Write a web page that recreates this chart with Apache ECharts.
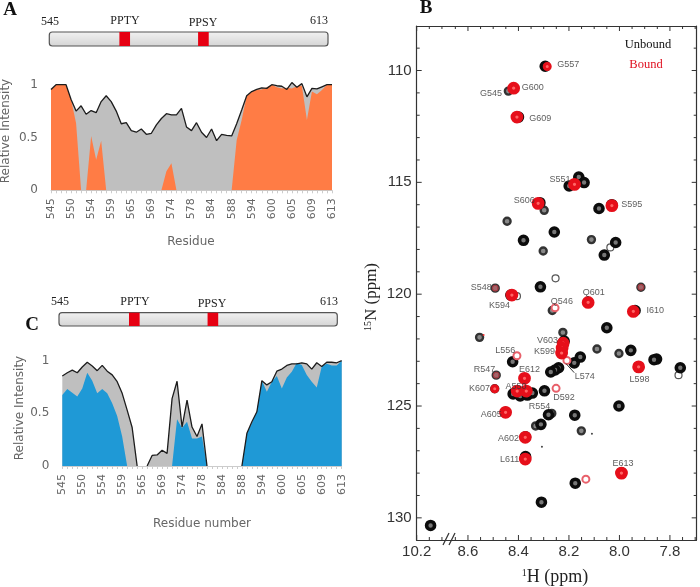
<!DOCTYPE html>
<html><head><meta charset="utf-8">
<style>html,body{margin:0;padding:0;background:#fff}#c{width:700px;height:587px}</style>
<script src="https://cdn.jsdelivr.net/npm/echarts@6/dist/echarts.min.js"></script>
</head><body><div id="c"></div>
<script>
const residues=[545,546,547,548,550,551,552,553,554,555,556,557,559,560,561,562,565,566,567,568,569,570,572,573,574,575,576,577,578,580,582,583,584,585,586,587,588,590,592,593,594,595,597,599,600,601,602,603,605,606,607,608,609,610,611,612,613];
const unboundA=[.955,1,1,1,.86,.75,.80,.72,.755,.735,.84,.895,.84,.75,.63,.64,.565,.55,.58,.53,.54,.62,.68,.725,.715,.715,.775,.60,.565,.64,.55,.50,.58,.47,.53,.52,.515,.63,.76,.895,.935,.955,.97,.965,1,.99,.985,.955,1.02,.975,1.01,.885,.965,.96,.98,1,1];
const boundA=[.955,1,1,1,.86,.635,0,0,.515,.29,.47,0,0,0,0,0,0,0,0,0,0,0,0,.18,.255,0,0,0,0,0,0,0,0,0,0,0,0,.475,.665,.895,.93,.955,.955,.975,1,.975,.965,.97,.965,.985,.99,.665,.935,.91,.95,1,1];
const unboundC=[.855,.885,.91,.885,.94,.985,.95,.905,.955,.90,.865,.80,.69,.53,.365,0,null,0,.10,.105,.15,.12,.64,.805,.37,.625,.37,.28,.40,0,null,null,null,null,null,null,0,.31,.42,.515,.81,.77,.80,.90,.92,.955,.97,.97,.98,.97,.92,.98,.945,.985,.985,.98,1];
const boundC=[.675,.73,.695,.66,.735,.885,.81,.69,.73,.69,.595,.475,.28,0,0,0,0,0,0,0,0,0,0,.445,.36,.42,.26,.26,.28,0,0,0,0,0,0,0,0,.31,.405,.525,.81,.705,.80,.855,.735,.84,.895,.98,.96,.865,.80,.745,.945,.97,.955,.955,1];
const chainSpan=[[545,613]];
const motifSpans=[[562.1,564.7],[581.3,583.9]];

const unboundStrong=[[8.294,109.81],[8.40,112.08],[8.161,114.76],[8.14,115.01],[8.199,115.16],[8.315,115.91],[8.03,116.0],[8.081,116.17],[8.258,117.22],[8.38,117.59],[8.015,117.69],[8.06,118.25],[8.313,119.67],[8.43,120.04],[7.938,120.73],[8.05,121.5],[8.219,122.1],[7.955,122.51],[7.853,122.9],[7.863,122.93],[7.759,123.29],[8.155,122.81],[8.179,123.07],[8.423,123.02],[8.241,123.29],[8.255,123.39],[8.272,123.48],[8.297,124.32],[8.421,124.46],[8.393,124.55],[8.365,124.51],[8.345,124.42],[8.002,125.0],[8.451,125.28],[8.281,125.39],[8.177,125.41],[8.311,125.82],[8.372,126.38],[8.372,127.26],[7.992,127.99],[8.175,128.45],[8.309,129.3],[10.145,130.34]];
const unboundWeak=[[8.44,110.92],[8.298,116.25],[8.445,116.74],[8.111,117.56],[8.302,118.07],[8.492,119.73],[7.915,119.69],[8.266,120.73],[8.224,121.71],[8.554,121.93],[8.089,122.45],[8.002,122.65],[8.488,123.62],[8.494,124.23],[8.151,126.11],[8.268,125.33],[8.332,125.89]];
const unboundFaint=[[8.036,117.91],[8.253,119.29],[7.766,123.62],[8.406,120.09]];
const unboundTiny=[[8.307,126.82],[8.109,126.24]];
const boundStrong=[[8.419,110.79],[8.406,112.08],[8.178,115.09],[8.322,115.94],[8.03,116.04],[8.426,120.04],[8.124,120.37],[7.945,120.77],[8.223,122.19],[8.227,122.41],[8.229,122.63],[7.924,123.25],[8.376,123.76],[8.405,124.33],[8.369,124.33],[8.451,125.28],[8.373,126.4],[8.373,127.37],[7.992,128.0]];
const boundMedium=[[8.494,124.23],[8.286,109.82]];
const boundWeak=[[8.255,120.61],[8.208,122.96],[8.406,122.75],[8.251,124.21],[8.133,128.27]];
const boundOverlap=[[8.492,119.73],[7.915,119.69],[8.488,123.62]];
const boundTiny=[[8.538,121.82]];
const leaderL574=[[8.212,123.1],[8.179,123.51]];
const peakLabels=['G557','G600','G545','G609','S551','S606','S595','S548','K594','Q601','Q546','I610','V603','K599','L556','L574','L598','R547','E612','K607','A550','D592','R554','A605','A602','L611','E613'];
const peakLabelH=[8.203,8.343,8.509,8.314,8.235,8.377,7.951,8.547,8.475,8.102,8.228,7.858,8.285,8.297,8.452,8.137,7.921,8.534,8.356,8.554,8.41,8.22,8.317,8.508,8.439,8.435,7.986];
const peakLabelN=[109.73,110.77,111.04,112.16,114.88,115.82,116.0,119.72,120.52,119.92,120.33,120.73,122.07,122.56,122.5,123.69,123.81,123.38,123.35,124.23,124.12,124.61,125.0,125.37,126.44,127.39,127.56];
const hTicks=[7.7,7.75,7.8,7.85,7.9,7.95,8,8.05,8.1,8.15,8.2,8.25,8.3,8.35,8.4,8.45,8.5,8.55,8.6,8.65,10.1,10.15,10.2];
const hLabels=[7.8,8,8.2,8.4,8.6,10.2];
const nTicks=[109,110,111,112,113,114,115,116,117,118,119,120,121,122,123,124,125,126,127,128,129,130];
const nLabels=[110,115,120,125,130];
const hMin=7.694,hMax=10.2,nMin=108.01,nMax=130.99;

const sans='"DejaVu Sans"';const serif='"Liberation Serif"';
const G='#666';
function relAxes(g){return {
 x:{type:'category',gridIndex:g,data:residues.map(String),boundaryGap:false,
    axisLine:{lineStyle:{color:'#ccc',width:1}},
    axisTick:{show:true,interval:0,length:3,lineStyle:{color:'#ccc'}},
    axisLabel:{interval:3,rotate:90,margin:8,fontFamily:sans,fontSize:11,color:G,verticalAlign:'middle'}},
 y:{type:'value',gridIndex:g,min:0,max:1.05,axisLine:{show:false},axisTick:{show:false},splitLine:{show:false},
    axisLabel:{customValues:[0,.5,1],margin:13,fontFamily:sans,fontSize:12,color:G,formatter:v=>String(v)}}
};}
const a=relAxes(0),c=relAxes(1);
function area(name,data,xi,fill,line){return {type:'line',name,data,xAxisIndex:xi,yAxisIndex:xi,symbol:'none',showSymbol:false,smooth:false,
  connectNulls:false,lineStyle:line?{color:line,width:1.3}:{width:0},areaStyle:{color:fill,opacity:1},silent:true};}
function peaks(name,data,size,fill,border,bw,z){return {type:'scatter',name,data,xAxisIndex:2,yAxisIndex:2,symbol:'circle',symbolSize:size,z,silent:true,
  itemStyle:{color:fill,borderColor:border,borderWidth:bw,opacity:1}};}
function spans(xi,data,style,r,z){return {type:'custom',xAxisIndex:xi,yAxisIndex:xi,data,silent:true,z,
  encode:{x:[0,1]},clip:false,
  renderItem(p,api){const s=api.coord([api.value(0),0]),e=api.coord([api.value(1),1]);
    return {type:'rect',shape:{x:s[0],y:e[1],width:e[0]-s[0],height:s[1]-e[1],r},style};}};}
const tickLine={stroke:'#333',lineWidth:1};
function hTickSeries(){return {type:'custom',xAxisIndex:2,yAxisIndex:2,data:hTicks.map(v=>[v]),silent:true,z:9,clip:false,encode:{x:0},
  renderItem(p,api){const v=api.value(0),b=api.coord([v,nMax]),t=api.coord([v,nMin]),l=hLabels.includes(v)?5:3;
    return {type:'group',children:[
      {type:'line',shape:{x1:b[0],y1:b[1],x2:b[0],y2:b[1]-l},style:tickLine},
      {type:'line',shape:{x1:t[0],y1:t[1],x2:t[0],y2:t[1]+l},style:tickLine}]};}};}
function nTickSeries(){return {type:'custom',xAxisIndex:2,yAxisIndex:2,data:nTicks.map(v=>[hMin,v]),silent:true,z:9,clip:false,encode:{x:0,y:1},
  renderItem(p,api){const v=api.value(1),r=api.coord([hMin,v]),m=api.coord([hMax,v]),l=nLabels.includes(v)?5:3;
    return {type:'group',children:[
      {type:'line',shape:{x1:r[0],y1:r[1],x2:r[0]-l,y2:r[1]},style:tickLine},
      {type:'line',shape:{x1:m[0],y1:m[1],x2:m[0]+l,y2:m[1]},style:tickLine}]};}};}
const chainStyle={fill:new echarts.graphic.LinearGradient(0,0,0,1,[{offset:0,color:'#f2f2f2'},{offset:1,color:'#d4d4d4'}]),stroke:'#555',lineWidth:1.2};
const motifStyle={fill:'#e60012'};
const frameLine={show:true,onZero:false,lineStyle:{color:'#333',width:1.2}};
function txt(x,y,s,o){return {type:'text',x,y,silent:true,style:Object.assign({text:s,font:'12px '+serif,fill:'#222',textAlign:'center',textVerticalAlign:'middle'},o||{})};}
const chart=echarts.init(document.getElementById('c'),null,{renderer:'canvas'});
chart.setOption({animation:false,backgroundColor:'#fff',
 grid:[
  {left:51,width:281,top:79.4,height:110.9},
  {left:62.3,width:279.4,top:355.4,height:110.6},
  {left:416.7,width:280,top:26,height:514},
  {left:49.3,width:278.7,top:32,height:14},
  {left:59,width:278.3,top:312.7,height:13.3}
 ],
 xAxis:[a.x,c.x,
  {type:'value',gridIndex:2,inverse:true,min:hMin,max:hMax,position:'bottom',
   breaks:[{start:8.667,end:10.064,gap:0}],breakArea:{show:false},
   axisLine:frameLine,splitLine:{show:false},axisTick:{show:false},
   axisLabel:{customValues:hLabels,margin:4,fontFamily:'"Liberation Sans"',fontSize:15,color:'#333',formatter:v=>Number(v).toFixed(1)}},
  {type:'value',gridIndex:2,inverse:true,min:hMin,max:hMax,position:'top',
   breaks:[{start:8.667,end:10.064,gap:0}],breakArea:{show:false},
   axisLine:frameLine,splitLine:{show:false},axisTick:{show:false},
   axisLabel:{show:false}},
  {type:'value',gridIndex:3,min:545,max:613,show:false},
  {type:'value',gridIndex:4,min:545,max:613,show:false}
 ],
 yAxis:[a.y,c.y,
  {type:'value',gridIndex:2,inverse:true,min:nMin,max:nMax,position:'left',
   axisLine:frameLine,splitLine:{show:false},axisTick:{show:false},
   axisLabel:{customValues:nLabels,margin:5,fontFamily:'"Liberation Sans"',fontSize:15,color:'#333'}},
  {type:'value',gridIndex:2,inverse:true,min:nMin,max:nMax,position:'right',
   axisLine:frameLine,splitLine:{show:false},axisTick:{show:false},
   axisLabel:{show:false}},
  {type:'value',gridIndex:3,min:0,max:1,show:false},
  {type:'value',gridIndex:4,min:0,max:1,show:false}
 ],
 series:[
  area('Unbound A',unboundA,0,'#bfbfbf','#1c1c1c'),
  area('Bound A',boundA,0,'#ff7c45',null),
  area('Unbound C',unboundC,1,'#bfbfbf','#1c1c1c'),
  area('Bound C',boundC,1,'#1f99d6',null),
  spans(4,chainSpan,chainStyle,3,2),spans(4,motifSpans,motifStyle,0,3),
  spans(5,chainSpan,chainStyle,3,2),spans(5,motifSpans,motifStyle,0,3),
  hTickSeries(),nTickSeries(),
  peaks('Unbound faint',unboundFaint,7,'#fff','#555',1.2,2),
  peaks('Unbound tiny',unboundTiny,2,'#444','#444',0,2),
  peaks('Unbound weak',unboundWeak,7,'#888','#333',2.4,3),
  peaks('Unbound',unboundStrong,8,'#777','#0c0c0c',3.6,4),
  peaks('Bound overlap',boundOverlap,6,'rgba(200,60,70,.45)','rgba(210,60,70,.7)',1,5),
  peaks('Bound weak',boundWeak,7,'#fff','#e8606a',2,5),
  peaks('Bound medium',boundMedium,6,'#f66','#e60f1a',3,5),
  peaks('Bound tiny',boundTiny,2,'#e33','#e33',0,5),
  peaks('Bound',boundStrong,8,'#f66','#e60f1a',4.8,6),
  {type:'line',data:leaderL574,xAxisIndex:2,yAxisIndex:2,symbol:'none',lineStyle:{color:'#333',width:1},z:7,silent:true},
  {type:'scatter',xAxisIndex:2,yAxisIndex:2,z:8,silent:true,symbolSize:1,itemStyle:{color:'rgba(0,0,0,0)'},
   data:peakLabels.map((n,i)=>({name:n,value:[peakLabelH[i],peakLabelN[i]]})),
   label:{show:true,position:'inside',formatter:'{b}',fontFamily:'"Liberation Sans"',fontSize:9,color:'#333'}}
 ],
 graphic:[
  txt(10,10,'A',{font:'bold 19px '+serif,fill:'#111'}),
  txt(426,8,'B',{font:'bold 19px '+serif,fill:'#111'}),
  txt(32,325,'C',{font:'bold 19px '+serif,fill:'#111'}),
  txt(50,22,'545'),txt(125,21,'PPTY'),txt(203,23,'PPSY'),txt(319,21,'613'),
  txt(60,302,'545'),txt(135,302,'PPTY'),txt(212,303.5,'PPSY'),txt(329,302,'613'),
  txt(191,242,'Residue',{font:'12px '+sans,fill:G}),
  txt(202,524,'Residue number',{font:'12px '+sans,fill:G}),
  {type:'text',x:6,y:131,rotation:Math.PI/2,silent:true,style:{text:'Relative Intensity',font:'12px '+sans,fill:G,textAlign:'center',textVerticalAlign:'middle'}},
  {type:'text',x:20,y:408,rotation:Math.PI/2,silent:true,style:{text:'Relative Intensity',font:'12px '+sans,fill:G,textAlign:'center',textVerticalAlign:'middle'}},
  txt(648,45,'Unbound',{font:'12.5px '+serif,fill:'#111'}),
  txt(646,65,'Bound',{font:'12.5px '+serif,fill:'#e01020'}),
  {type:'text',x:372,y:297,rotation:Math.PI/2,silent:true,style:{text:'{s|15}N (ppm)',font:'17px '+serif,fill:'#222',textAlign:'center',textVerticalAlign:'middle',rich:{s:{font:'10px '+serif,fill:'#222',verticalAlign:'top'}}}},
  {type:'text',x:555,y:577,silent:true,style:{text:'{s|1}H (ppm)',font:'18px '+serif,fill:'#222',textAlign:'center',textVerticalAlign:'middle',rich:{s:{font:'10px '+serif,fill:'#222',verticalAlign:'top'}}}},
  {type:'rect',shape:{x:444,y:538,width:10,height:4},style:{fill:'#fff'},silent:true},
  {type:'line',shape:{x1:443,y1:545,x2:449,y2:533},style:{stroke:'#333',lineWidth:1.2},silent:true},
  {type:'line',shape:{x1:449,y1:545,x2:455,y2:533},style:{stroke:'#333',lineWidth:1.2},silent:true}
 ]
});
</script></body></html>
